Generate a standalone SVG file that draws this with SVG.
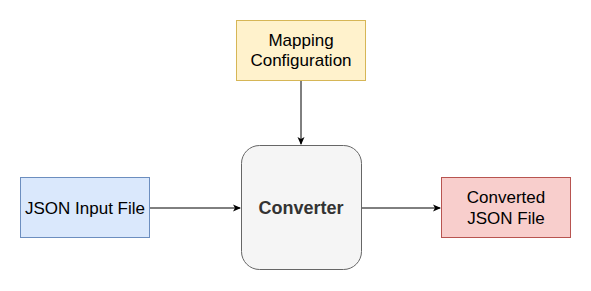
<svg xmlns="http://www.w3.org/2000/svg" width="591" height="291" viewBox="0 0 591 291">
<defs>
<style>
text{font-family:"Liberation Sans",Arial,sans-serif;font-size:17px;fill:#000;text-anchor:middle}
.edge{stroke:#000;stroke-width:1;fill:none}
</style>
<marker id="arr" markerWidth="10" markerHeight="10" refX="8" refY="5" orient="auto" markerUnits="userSpaceOnUse">
<path d="M1,1.5 L9,5 L1,8.5 L3,5 Z" fill="#000"/>
</marker>
</defs>
<rect width="591" height="291" fill="#fff"/>
<g id="edges">
<path class="edge" d="M150,208 L240,208" marker-end="url(#arr)"/>
<path class="edge" d="M301,81 L301,144" marker-end="url(#arr)"/>
<path class="edge" d="M361,208 L440,208" marker-end="url(#arr)"/>
</g>
<g id="json-input">
<rect x="20.5" y="177.5" width="129" height="60" fill="#dae8fc" stroke="#6c8ebf"/>
<text x="85" y="214">JSON Input File</text>
</g>
<g id="mapping-config">
<rect x="236.5" y="20.5" width="129" height="60" fill="#fff2cc" stroke="#d6b656"/>
<text x="301" y="46">Mapping</text>
<text x="301" y="66">Configuration</text>
</g>
<g id="converter">
<rect x="241.5" y="145.5" width="120" height="124" rx="18" fill="#f5f5f5" stroke="#666666"/>
<text x="301" y="214" style="font-weight:bold;font-size:18px;fill:#333">Converter</text>
</g>
<g id="converted-json">
<rect x="441.5" y="177.5" width="129" height="60" fill="#f8cecc" stroke="#b85450"/>
<text x="506" y="203">Converted</text>
<text x="506" y="224">JSON File</text>
</g>
</svg>
